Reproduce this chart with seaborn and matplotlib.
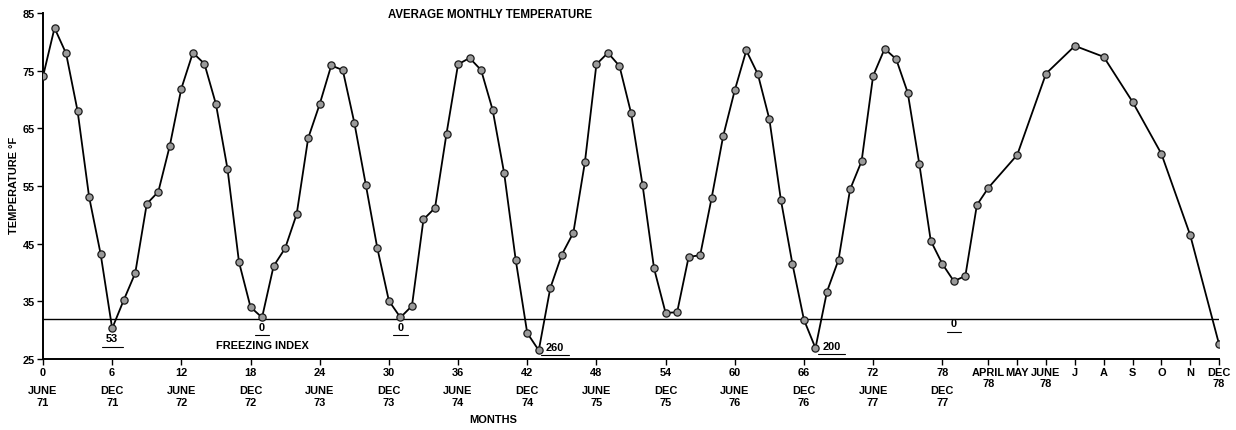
import numpy as np
import pandas as pd
import matplotlib
matplotlib.use("Agg")
import matplotlib.pyplot as plt
import seaborn as sns
from matplotlib import font_manager

# Monthly mean air temperature, June 1971 (month 0) through December 1978 (month 90)
months = list(range(91))
temps = [74.0, 82.4, 78.0, 68.0, 53.1, 43.2, 30.3, 35.2, 39.9, 51.9, 54.0, 62.0,
         71.9, 78.1, 76.2, 69.2, 58.0, 41.8, 34.0, 32.2, 41.1, 44.2, 50.1, 63.3,
         69.2, 75.9, 75.1, 66.0, 55.2, 44.2, 35.1, 32.2, 34.2, 49.2, 51.2, 64.1,
         76.1, 77.2, 75.1, 68.2, 57.2, 42.2, 29.5, 26.5, 37.3, 43.1, 46.9, 59.1,
         76.1, 78.1, 75.8, 67.7, 55.2, 40.7, 33.0, 33.1, 42.7, 43.0, 53.0, 63.7,
         71.6, 78.5, 74.4, 66.6, 52.6, 41.5, 31.8, 26.9, 36.7, 42.2, 54.4, 59.3,
         74.1, 78.8, 77.0, 71.2, 58.9, 45.5, 41.5, 38.5, 39.4, 51.7, 54.7, 60.4,
         74.5, 79.3, 77.4, 69.6, 60.6, 46.5, 27.6]

freezing_temp = 32

# Freezing index for each winter
fi_labels = ["53", "0", "0", "260", "200", "0"]
fi_months = [6, 19, 31, 44.4, 68.4, 79]
fi_temps = [28.6, 30.6, 30.6, 27.1, 27.3, 31.2]

# Axis ticks
y_ticks = [25, 35, 45, 55, 65, 75, 85]
x_ticks = [0, 6, 12, 18, 24, 30, 36, 42, 48, 54, 60, 66, 72, 78,
           82, 83, 84, 85, 86, 87, 88, 89, 90]
x_tick_labels = ["0", "6", "12", "18", "24", "30", "36", "42", "48", "54", "60",
                 "66", "72", "78", "APRIL\n78", "MAY", "JUNE\n78", "J", "A", "S",
                 "O", "N", "DEC\n78"]
season_months = [0, 6, 12, 18, 24, 30, 36, 42, 48, 54, 60, 66, 72, 78]
season_labels = ["JUNE\n71", "DEC\n71", "JUNE\n72", "DEC\n72", "JUNE\n73", "DEC\n73",
                 "JUNE\n74", "DEC\n74", "JUNE\n75", "DEC\n75", "JUNE\n76", "DEC\n76",
                 "JUNE\n77", "DEC\n77"]

df = pd.DataFrame({"month": months, "temp": temps})

sns.set_theme(style="white")
available = {f.name for f in font_manager.fontManager.ttflist}
family = next((f for f in ["Liberation Sans Narrow", "DejaVu Sans Condensed",
                           "Liberation Sans", "DejaVu Sans"]
               if f in available), "DejaVu Sans")
plt.rcParams["font.family"] = [family, "DejaVu Sans"]
plt.rcParams["font.weight"] = "bold"
for key in ["text.color", "axes.labelcolor", "xtick.color", "ytick.color"]:
    plt.rcParams[key] = "black"

FS = 7.9

fig = plt.figure(figsize=(12.36, 4.31), dpi=100)
ax = fig.add_axes([43 / 1236, 1 - 360 / 431, (1219 - 43) / 1236, 346 / 431])

ax.axhline(freezing_temp, color="black", lw=1.0, zorder=1)

sns.lineplot(data=df, x="month", y="temp", ax=ax, color="black", lw=1.3,
             marker="o", markersize=5.2, markerfacecolor="#9a9a9a",
             markeredgecolor="#1a1a1a", markeredgewidth=0.9, zorder=3)

# The 1978 months are drawn on a stretched scale after April 1978
STRETCH_AT, K = 82.0, 2.5


def fwd(m):
    m = np.asarray(m, dtype=float)
    return np.where(m <= STRETCH_AT, m, STRETCH_AT + (m - STRETCH_AT) * K)


def inv(p):
    p = np.asarray(p, dtype=float)
    return np.where(p <= STRETCH_AT, p, STRETCH_AT + (p - STRETCH_AT) / K)


ax.set_xscale("function", functions=(fwd, inv))
ax.set_xlim(0, 90)
ax.set_ylim(25, 85)

ax.set_xticks(x_ticks)
ax.set_xticklabels(x_tick_labels, fontsize=FS, fontweight="bold", linespacing=1.1)
ax.set_yticks(y_ticks)
ax.set_yticklabels([str(v) for v in y_ticks], fontsize=FS, fontweight="bold")
ax.tick_params(axis="both", direction="out", length=4, width=1.0, color="black",
               labelcolor="black", pad=2, bottom=True, left=True)

for side in ["top", "right"]:
    ax.spines[side].set_visible(False)
for side in ["left", "bottom"]:
    ax.spines[side].set_color("black")
    ax.spines[side].set_linewidth(1.4)

# Season labels under the month numbers
trans = ax.get_xaxis_transform()
for m, lab in zip(season_months, season_labels):
    ax.text(m, -0.075, lab, transform=trans, ha="center", va="top",
            fontsize=FS, fontweight="bold", linespacing=1.2, color="black")

# Freezing index values, underlined
for lab, m, t in zip(fi_labels, fi_months, fi_temps):
    ax.text(m, t, lab, ha="center", va="center", fontsize=FS,
            fontweight="bold", zorder=4, color="black")
    half = 0.28 * len(lab) + 0.35
    ax.plot([m - half, m + half], [t - 1.45, t - 1.45], color="black", lw=0.8)

ax.text(19, 27.5, "FREEZING INDEX", ha="center", va="center", fontsize=FS,
        fontweight="bold", color="black")

ax.set_xlabel("MONTHS", fontsize=FS, fontweight="bold", color="black")
ax.xaxis.label.set_va("center")
ax.xaxis.set_label_coords((493 - 43) / 1176, -0.173)
ax.set_ylabel("TEMPERATURE °F", fontsize=FS, fontweight="bold", color="black")
ax.yaxis.label.set_va("center")
ax.yaxis.set_label_coords(-0.0247, 0.505)

fig.text(490 / 1236, 1 - 15 / 431, "AVERAGE MONTHLY TEMPERATURE", ha="center",
         va="center", fontsize=8.3, fontweight="bold", color="black")

fig.savefig("out.png", dpi=100, facecolor="white")
